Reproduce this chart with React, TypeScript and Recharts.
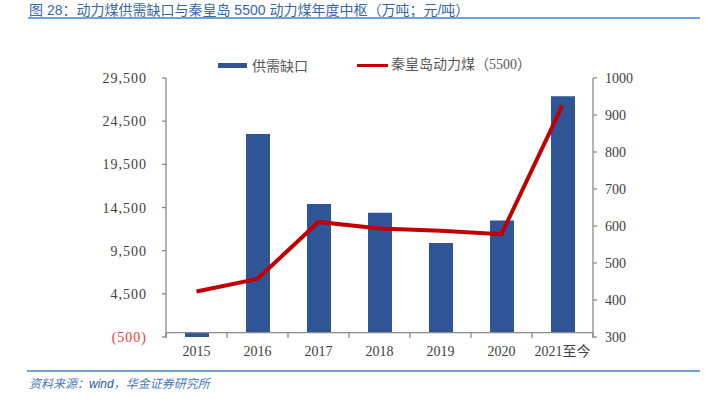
import { ComposedChart, Bar, Line, XAxis, YAxis, ReferenceLine, Legend } from 'recharts';

const years = ['2015', '2016', '2017', '2018', '2019', '2020', '2021至今'];
const supplyGap = [-600, 23000, 14900, 13900, 10400, 13000, 27400];
const qhdPrice = [423, 457, 611, 593, 587, 578, 926];
const leftTicks = [-500, 4500, 9500, 14500, 19500, 24500, 29500];
const rightTicks = [300, 400, 500, 600, 700, 800, 900, 1000];

const data = years.map((year, i) => ({ year, gap: supplyGap[i], price: qhdPrice[i] }));

const W = 705;
const H = 399;
const PLOT_LEFT = 166;
const PLOT_RIGHT = 593;
const HALF_BAND = (PLOT_RIGHT - PLOT_LEFT) / years.length / 2;
const AXIS = '#8a8a8a';
const SERIF = "'Liberation Serif', 'Noto Sans CJK SC', serif";
const CJK = "'Noto Sans CJK SC', 'Liberation Sans', sans-serif";

const fmtLeft = (v: number) => {
  const s = Math.abs(v).toLocaleString('en-US');
  return v < 0 ? `(${s})` : s;
};

function LeftTick({ x, y, payload }: any) {
  const v = payload.value as number;
  return (
    <text x={x} y={y} dy={5} textAnchor="end" fontSize={14} fontFamily={SERIF} letterSpacing={1}
      fill={v < 0 ? '#f0383a' : '#404040'}>
      {fmtLeft(v)}
    </text>
  );
}

function RightTick({ x, y, payload }: any) {
  return (
    <text x={x} y={y} dy={5} textAnchor="start" fontSize={14} fontFamily={SERIF} fill="#404040">
      {payload.value}
    </text>
  );
}

function CatTick({ x, y, payload, index }: any) {
  const last = index === years.length - 1;
  return (
    <g>
      <line x1={x - HALF_BAND} x2={x - HALF_BAND} y1={y - 4} y2={y + 1} stroke={AXIS} strokeWidth={1.3} />
      {last && <line x1={x + HALF_BAND} x2={x + HALF_BAND} y1={y - 4} y2={y + 1} stroke={AXIS} strokeWidth={1.3} />}
      <text x={x} y={y} dy={19} textAnchor="middle" fontSize={14} fontFamily={SERIF} fill="#404040">
        {payload.value}
      </text>
    </g>
  );
}

function LegendContent({ payload }: any) {
  return (
    <div style={{ display: 'flex', alignItems: 'center', paddingLeft: 218, fontFamily: CJK, fontSize: 14, color: '#595959', lineHeight: '18px' }}>
      {(payload || []).map((p: any, i: number) => (
        <div key={p.value} style={{ display: 'flex', alignItems: 'center', marginLeft: i === 0 ? 0 : 49 }}>
          {p.type === 'line'
            ? <span style={{ width: 31, height: 3, background: p.color, marginRight: 3 }} />
            : <span style={{ width: 29, height: 5, background: p.color, marginRight: 5 }} />}
          <span style={{ fontFamily: i === 0 ? CJK : SERIF }}>{p.value}</span>
        </div>
      ))}
    </div>
  );
}

export default function App() {
  return (
    <div style={{ position: 'absolute', left: 0, top: 0, width: W, height: H, background: '#fff', overflow: 'hidden' }}>
      <div style={{ position: 'absolute', left: 29, top: -1, fontFamily: "'Liberation Sans', 'Noto Sans CJK SC', sans-serif", fontSize: 14, color: '#3767a8', whiteSpace: 'nowrap' }}>
        图 28：动力煤供需缺口与秦皇岛 5500 动力煤年度中枢（万吨；元/吨）
      </div>
      <div style={{ position: 'absolute', left: 28, top: 17, width: 672, height: 1.5, background: '#6fa3d8' }} />
      <ComposedChart width={W} height={H} data={data} margin={{ top: 78, right: 52, bottom: 32, left: 86 }} style={{ position: 'absolute', left: 0, top: 0 }}>
        <XAxis dataKey="year" height={30} axisLine={false} tickLine={false} tickSize={0} tickMargin={0} interval={0} tick={<CatTick />} />
        <YAxis yAxisId="left" width={80} domain={[-500, 29500]} ticks={leftTicks} allowDataOverflow
          axisLine={{ stroke: AXIS, strokeWidth: 1.3 }} tickLine={{ stroke: AXIS, strokeWidth: 1.3 }} tickSize={4} tickMargin={15} tick={<LeftTick />} />
        <YAxis yAxisId="right" orientation="right" width={60} domain={[300, 1000]} ticks={rightTicks} allowDataOverflow
          axisLine={{ stroke: AXIS, strokeWidth: 1.3 }} tickLine={{ stroke: AXIS, strokeWidth: 1.3 }} tickSize={4} tickMargin={8} tick={<RightTick />} />
        <ReferenceLine yAxisId="left" y={0} stroke={AXIS} strokeWidth={1.3} />
        <Legend verticalAlign="top" content={<LegendContent />} wrapperStyle={{ top: 56, left: 0, width: W, height: 0, overflow: 'visible' }} />
        <Bar yAxisId="left" dataKey="gap" name="供需缺口" fill="#2f5597" barSize={24} legendType="rect" isAnimationActive={false} />
        <Line yAxisId="right" dataKey="price" name="秦皇岛动力煤（5500）" stroke="#c00000" strokeWidth={4} dot={false} type="linear" legendType="line" isAnimationActive={false} />
      </ComposedChart>
      <div style={{ position: 'absolute', left: 27, top: 370, width: 673, height: 1.5, background: '#6fa3d8' }} />
      <div style={{ position: 'absolute', left: 29, top: 374, fontFamily: CJK, fontStyle: 'italic', fontSize: 12, color: '#4a78bb', whiteSpace: 'nowrap' }}>
        资料来源：<span style={{ fontFamily: "'Liberation Sans', sans-serif", color: '#2f5597' }}>wind</span>，华金证券研究所
      </div>
    </div>
  );
}
